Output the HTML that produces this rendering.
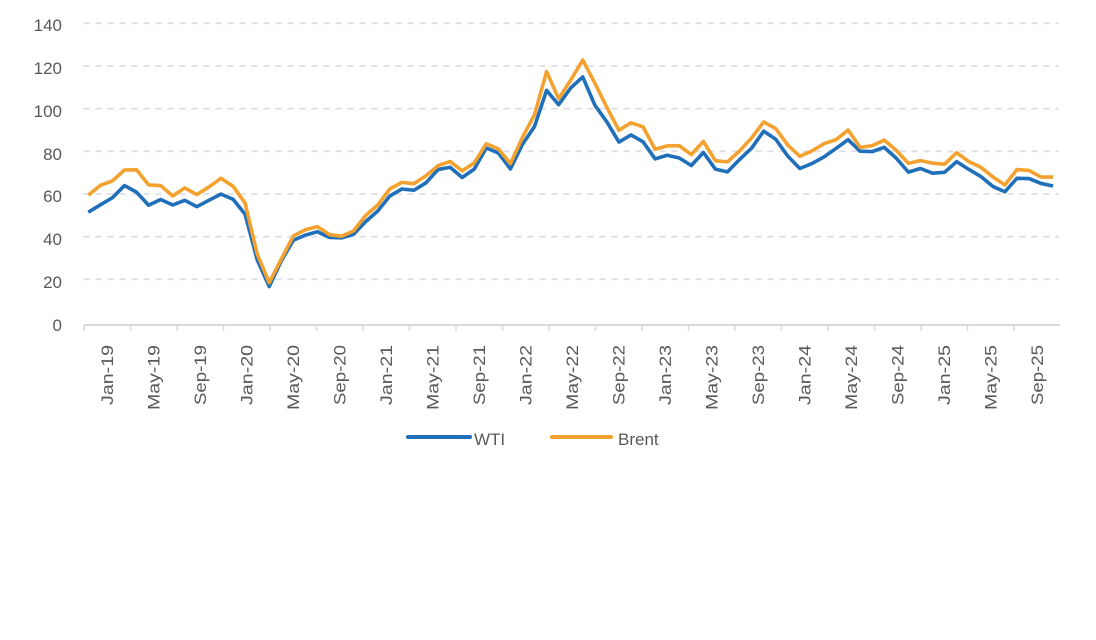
<!DOCTYPE html>
<html><head><meta charset="utf-8"><style>
html,body{margin:0;padding:0;background:#fff;}
svg text{font-family:"Liberation Sans",Arial,sans-serif;fill:#595959;}
</style></head><body>
<svg width="1096" height="635" viewBox="0 0 1096 635" xmlns="http://www.w3.org/2000/svg">
<g stroke="#dcdfe5" stroke-width="1.8" stroke-dasharray="5 7" stroke-linecap="round">
<line x1="84" y1="279.3" x2="1058" y2="279.3"/>
<line x1="84" y1="236.7" x2="1058" y2="236.7"/>
<line x1="84" y1="194" x2="1058" y2="194"/>
<line x1="84" y1="151.3" x2="1058" y2="151.3"/>
<line x1="84" y1="108.6" x2="1058" y2="108.6"/>
<line x1="84" y1="66" x2="1058" y2="66"/>
<line x1="84" y1="23.3" x2="1058" y2="23.3"/>
</g>
<line x1="84" y1="325" x2="1060" y2="325" stroke="#d9d9d9" stroke-width="2"/>
<g stroke="#d9d9d9" stroke-width="1.5">
<line x1="84" y1="325" x2="84" y2="331"/><line x1="130.5" y1="325" x2="130.5" y2="331"/><line x1="177" y1="325" x2="177" y2="331"/><line x1="223.5" y1="325" x2="223.5" y2="331"/><line x1="270" y1="325" x2="270" y2="331"/><line x1="316.5" y1="325" x2="316.5" y2="331"/><line x1="363" y1="325" x2="363" y2="331"/><line x1="409.5" y1="325" x2="409.5" y2="331"/><line x1="456" y1="325" x2="456" y2="331"/><line x1="502.5" y1="325" x2="502.5" y2="331"/><line x1="549" y1="325" x2="549" y2="331"/><line x1="595.5" y1="325" x2="595.5" y2="331"/><line x1="642" y1="325" x2="642" y2="331"/><line x1="688.5" y1="325" x2="688.5" y2="331"/><line x1="735" y1="325" x2="735" y2="331"/><line x1="781.5" y1="325" x2="781.5" y2="331"/><line x1="828" y1="325" x2="828" y2="331"/><line x1="874.5" y1="325" x2="874.5" y2="331"/><line x1="921" y1="325" x2="921" y2="331"/><line x1="967.5" y1="325" x2="967.5" y2="331"/><line x1="1014" y1="325" x2="1014" y2="331"/>
</g>
<g font-size="17" text-anchor="end">
<text x="62" y="331">0</text>
<text x="62" y="288">20</text>
<text x="62" y="245">40</text>
<text x="62" y="202">60</text>
<text x="62" y="160">80</text>
<text x="62" y="117">100</text>
<text x="62" y="74">120</text>
<text x="62" y="31">140</text>
</g>
<g font-size="17" text-anchor="end" lengthAdjust="spacingAndGlyphs">
<text transform="translate(113,345) rotate(-90)" textLength="60" lengthAdjust="spacingAndGlyphs">Jan-19</text>
<text transform="translate(159.5,345) rotate(-90)" textLength="65" lengthAdjust="spacingAndGlyphs">May-19</text>
<text transform="translate(206,345) rotate(-90)" textLength="60" lengthAdjust="spacingAndGlyphs">Sep-19</text>
<text transform="translate(252.5,345) rotate(-90)" textLength="60" lengthAdjust="spacingAndGlyphs">Jan-20</text>
<text transform="translate(299,345) rotate(-90)" textLength="65" lengthAdjust="spacingAndGlyphs">May-20</text>
<text transform="translate(345.5,345) rotate(-90)" textLength="60" lengthAdjust="spacingAndGlyphs">Sep-20</text>
<text transform="translate(392,345) rotate(-90)" textLength="60" lengthAdjust="spacingAndGlyphs">Jan-21</text>
<text transform="translate(438.5,345) rotate(-90)" textLength="65" lengthAdjust="spacingAndGlyphs">May-21</text>
<text transform="translate(485,345) rotate(-90)" textLength="60" lengthAdjust="spacingAndGlyphs">Sep-21</text>
<text transform="translate(531.5,345) rotate(-90)" textLength="60" lengthAdjust="spacingAndGlyphs">Jan-22</text>
<text transform="translate(578,345) rotate(-90)" textLength="65" lengthAdjust="spacingAndGlyphs">May-22</text>
<text transform="translate(624.5,345) rotate(-90)" textLength="60" lengthAdjust="spacingAndGlyphs">Sep-22</text>
<text transform="translate(671,345) rotate(-90)" textLength="60" lengthAdjust="spacingAndGlyphs">Jan-23</text>
<text transform="translate(717.5,345) rotate(-90)" textLength="65" lengthAdjust="spacingAndGlyphs">May-23</text>
<text transform="translate(764,345) rotate(-90)" textLength="60" lengthAdjust="spacingAndGlyphs">Sep-23</text>
<text transform="translate(810.5,345) rotate(-90)" textLength="60" lengthAdjust="spacingAndGlyphs">Jan-24</text>
<text transform="translate(857,345) rotate(-90)" textLength="65" lengthAdjust="spacingAndGlyphs">May-24</text>
<text transform="translate(903.5,345) rotate(-90)" textLength="60" lengthAdjust="spacingAndGlyphs">Sep-24</text>
<text transform="translate(950,345) rotate(-90)" textLength="60" lengthAdjust="spacingAndGlyphs">Jan-25</text>
<text transform="translate(996.5,345) rotate(-90)" textLength="65" lengthAdjust="spacingAndGlyphs">May-25</text>
<text transform="translate(1043,345) rotate(-90)" textLength="60" lengthAdjust="spacingAndGlyphs">Sep-25</text>
</g>
<g transform="translate(88.3,322) scale(12.06,-2.135)" fill="none" stroke-linejoin="round">
<polyline vector-effect="non-scaling-stroke" stroke="#1f6fba" stroke-width="3.6" points="0,51.4 1,54.9 2,58.2 3,63.9 4,60.8 5,54.7 6,57.4 7,54.8 8,57.0 9,54.0 10,57.0 11,59.9 12,57.5 13,50.5 14,29.2 15,16.6 16,28.6 17,38.3 18,40.7 19,42.3 20,39.6 21,39.4 22,41.1 23,47.0 24,52.0 25,59.0 26,62.3 27,61.7 28,65.2 29,71.4 30,72.5 31,67.7 32,71.6 33,81.5 34,79.2 35,71.7 36,83.2 37,91.6 38,108.5 39,101.8 40,109.6 41,114.8 42,101.6 43,93.7 44,84.3 45,87.6 46,84.4 47,76.4 48,78.1 49,76.8 50,73.3 51,79.4 52,71.6 53,70.3 54,76.1 55,81.4 56,89.4 57,85.6 58,77.7 59,71.9 60,74.2 61,77.3 62,81.3 63,85.4 64,80.0 65,79.8 66,81.8 67,76.7 68,70.2 69,71.9 70,69.7 71,70.1 72,75.1 73,71.5 74,68.2 75,63.5 76,61.0 77,67.3 78,67.2 79,64.9 80,63.7"/>
<polyline vector-effect="non-scaling-stroke" stroke="#f4a22f" stroke-width="3.6" points="0,59.4 1,64.0 2,66.1 3,71.2 4,71.3 5,64.2 6,63.9 7,59.0 8,62.8 9,59.7 10,63.2 11,67.3 12,63.6 13,55.7 14,32.0 15,18.4 16,29.4 17,40.3 18,43.2 19,44.7 20,40.9 21,40.2 22,42.7 23,49.9 24,54.8 25,62.3 26,65.4 27,64.8 28,68.5 29,73.2 30,75.2 31,70.8 32,74.5 33,83.5 34,81.1 35,74.2 36,86.5 37,97.1 38,117.3 39,104.6 40,113.3 41,122.7 42,111.9 43,100.5 44,89.8 45,93.3 46,91.4 47,80.9 48,82.5 49,82.6 50,78.4 51,84.6 52,75.5 53,75.0 54,80.1 55,86.2 56,93.7 57,90.6 58,82.9 59,77.6 60,80.1 61,83.5 62,85.4 63,89.9 64,81.8 65,82.6 66,85.2 67,80.4 68,74.3 69,75.6 70,74.4 71,73.9 72,79.3 73,75.2 74,72.5 75,68.0 76,64.2 77,71.4 78,71.0 79,67.9 80,67.9"/>
</g>
<line x1="408" y1="437" x2="470" y2="437" stroke="#1f6fba" stroke-width="4" stroke-linecap="round"/>
<text x="474" y="445" font-size="17">WTI</text>
<line x1="552" y1="437" x2="611" y2="437" stroke="#f4a22f" stroke-width="4" stroke-linecap="round"/>
<text x="618" y="445" font-size="17">Brent</text>
</svg>
</body></html>
